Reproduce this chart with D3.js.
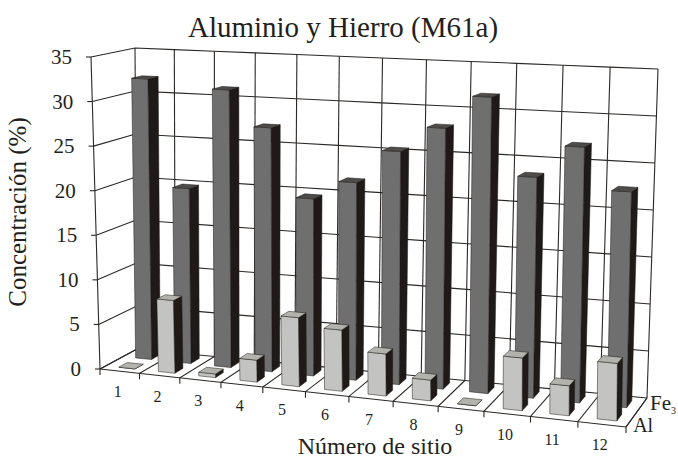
<!DOCTYPE html>
<html>
<head>
<meta charset="utf-8">
<script src="https://cdn.jsdelivr.net/npm/d3@7"></script>
<style>
  body { margin: 0; background: #fff; }
  svg { display: block; font-family: "Liberation Serif", serif; fill: #231f20; }
</style>
</head>
<body>
<div id="chart"></div>
<script>
const sites = ["1", "2", "3", "4", "5", "6", "7", "8", "9", "10", "11", "12"];
const feValues = [32, 19.8, 31.2, 27.2, 19.6, 21.7, 25.4, 28.2, 31.8, 23.5, 27, 22.6];
const alValues = [0, 8.1, 0.4, 2.4, 7.5, 6.6, 4.5, 2.2, 0, 5.5, 3.1, 5.9];
const valueTicks = [0, 5, 10, 15, 20, 25, 30, 35];

const width = 678, height = 459;

// frame corners of the 3D box: floor and ceiling, [front-left, front-right, back-right, back-left]
const floorQuad = [[100, 369], [626, 427], [647, 398], [137, 349]];
const topQuad = [[91, 57], [628, 82], [658, 69], [135, 48]];

const lineColor = "#2b2826";
const sideColor = "#1f1a17";

const lerp = (a, b, t) => a + (b - a) * t;

// sites get a little wider to the right
const widen = u => (u + 0.12 * u * u) / 1.12;

function onQuad(q, u, v) {
    const s = widen(u);
    const fx = lerp(q[0][0], q[1][0], s), fy = lerp(q[0][1], q[1][1], s);
    const bx = lerp(q[3][0], q[2][0], s), by = lerp(q[3][1], q[2][1], s);
    return [lerp(fx, bx, v), lerp(fy, by, v)];
}

const x = d3.scaleBand().domain(sites).range([0, 1]);
const y = d3.scaleLinear().domain([0, 35]).range([0, 1]);

// position along the sites, depth (0 front, 1 back), value
function project(u, v, val) {
    const a = onQuad(floorQuad, u, v), b = onQuad(topQuad, u, v), t = y(val);
    return [lerp(a[0], b[0], t), lerp(a[1], b[1], t)];
}

const line = d3.line();

const svg = d3.select("#chart")
    .append("svg")
    .attr("width", width)
    .attr("height", height)
    .attr("viewBox", [0, 0, width, height]);

const grid = svg.append("g")
    .attr("fill", "none")
    .attr("stroke", lineColor)
    .attr("stroke-width", 1.1);

// horizontal grid on left wall and back wall
valueTicks.forEach(t => {
    const back = d3.range(0, 1.001, 1 / sites.length).map(u => project(u, 1, t));
    grid.append("path").attr("d", line([project(0, 0, t), ...back]));
});

// vertical grid on the back wall, floor lines and ticks under the front edge
const edges = d3.range(sites.length + 1).map(i => i / sites.length);
edges.forEach(u => {
    grid.append("path").attr("d", line([project(u, 1, 0), project(u, 1, 35)]));
    const f = project(u, 0, 0);
    grid.append("path").attr("d", line([project(u, 1, 0), f, [f[0], f[1] + 6]]));
});

grid.append("path").attr("d", line([project(0, 0, 0), project(0, 0, 35)]));
grid.append("path").attr("d", line([project(0, 0, 0), project(1, 0, 0), project(1, 1, 0)]));

// value ticks and labels
valueTicks.forEach(t => {
    const p = project(0, 0, t);
    grid.append("path").attr("d", line([p, [p[0] - 5, p[1]]]));
    svg.append("text")
        .attr("x", p[0] - 19)
        .attr("y", p[1] + 7)
        .attr("text-anchor", "end")
        .style("font-size", "21px")
        .text(t);
});

// one box per value, back row first
function drawRow(values, depth, front, top) {
    const box = svg.append("g")
        .selectAll("g")
        .data(values)
        .join("g");

    const u0 = (d, i) => x(sites[i]) + x.bandwidth() * 0.33;
    const u1 = (d, i) => x(sites[i]) + x.bandwidth() * 0.74;

    box.append("path") // right side
        .attr("fill", sideColor)
        .attr("stroke", sideColor)
        .attr("stroke-width", 0.5)
        .attr("d", (d, i) => line([
            project(u1(d, i), depth[0], 0), project(u1(d, i), depth[1], 0),
            project(u1(d, i), depth[1], d), project(u1(d, i), depth[0], d)
        ]) + "Z");

    box.append("path") // front
        .attr("fill", front)
        .attr("stroke", sideColor)
        .attr("stroke-width", 0.5)
        .attr("d", (d, i) => line([
            project(u0(d, i), depth[0], 0), project(u1(d, i), depth[0], 0),
            project(u1(d, i), depth[0], d), project(u0(d, i), depth[0], d)
        ]) + "Z");

    box.append("path") // top
        .attr("fill", top)
        .attr("stroke", sideColor)
        .attr("stroke-width", 0.5)
        .attr("d", (d, i) => line([
            project(u0(d, i), depth[0], d), project(u1(d, i), depth[0], d),
            project(u1(d, i), depth[1], d), project(u0(d, i), depth[1], d)
        ]) + "Z");
}

drawRow(feValues, [0.62, 0.86], "#6f6f70", "#4d4c4b");
drawRow(alValues, [0.16, 0.39], "#c3c4c2", "#b3b3ae");

// site labels
svg.append("g")
    .selectAll("text")
    .data(sites)
    .join("text")
    .attr("text-anchor", "middle")
    .style("font-size", "16px")
    .attr("x", d => project(x(d) + x.bandwidth() / 2, 0, 0)[0] - 2)
    .attr("y", d => project(x(d) + x.bandwidth() / 2, 0, 0)[1] + 26)
    .text(d => d);

// series labels
const feLabel = svg.append("text")
    .attr("x", project(1, 0.72, 0)[0] + 9)
    .attr("y", project(1, 0.72, 0)[1] + 4)
    .style("font-size", "21px");
feLabel.append("tspan").text("Fe");
feLabel.append("tspan").attr("dy", 4).style("font-size", "10px").text("3");

svg.append("text")
    .attr("x", project(1, 0.15, 0)[0] + 4)
    .attr("y", project(1, 0.15, 0)[1] + 9)
    .style("font-size", "20px")
    .text("Al");

svg.append("text")
    .attr("x", 343)
    .attr("y", 37)
    .attr("text-anchor", "middle")
    .style("font-size", "29px")
    .text("Aluminio y Hierro (M61a)");

svg.append("text")
    .attr("x", 375)
    .attr("y", 453.5)
    .attr("text-anchor", "middle")
    .style("font-size", "24px")
    .text("Número de sitio");

svg.append("text")
    .attr("transform", "translate(26,212) rotate(-90)")
    .attr("text-anchor", "middle")
    .style("font-size", "25px")
    .text("Concentración (%)");
</script>
</body>
</html>
